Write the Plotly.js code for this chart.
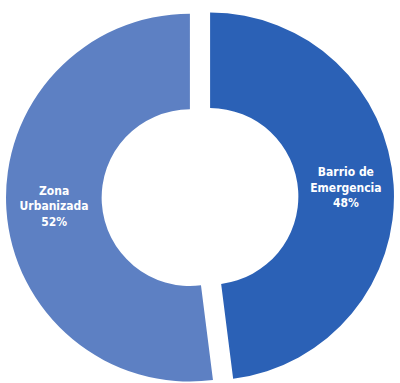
<!DOCTYPE html>
<html><head><meta charset="utf-8">
<script src="https://cdn.plot.ly/plotly-3.0.1.min.js"></script>
<style>html,body{margin:0;padding:0;background:#fff;overflow:hidden}</style>
</head><body><div id="chart" style="width:400px;height:394px"></div>
<script>
const labels = ['Barrio de<br>Emergencia', 'Zona<br>Urbanizada'];
const values = [48, 52];
const colors = ['#2b61b6', '#5d80c3'];

Plotly.newPlot('chart', [{
  type: 'pie',
  labels: labels,
  values: values,
  hole: 0.48,
  sort: false,
  direction: 'clockwise',
  rotation: 0,
  pull: [0.055, 0.055],
  domain: {x: [0.015, 0.985], y: [0, 1]},
  marker: {colors: colors, line: {color: '#ffffff', width: 0}},
  texttemplate: '%{label}<br>%{value}%',
  textposition: 'inside',
  insidetextorientation: 'horizontal',
  textfont: {family: 'DejaVu Sans Condensed', size: 12, color: '#ffffff', weight: 'bold'},
  showlegend: false,
  hoverinfo: 'none'
}], {
  width: 400, height: 394,
  margin: {l: 0, r: 0, t: 0, b: 0},
  paper_bgcolor: '#ffffff',
  showlegend: false
}, {displayModeBar: false});
</script></body></html>
